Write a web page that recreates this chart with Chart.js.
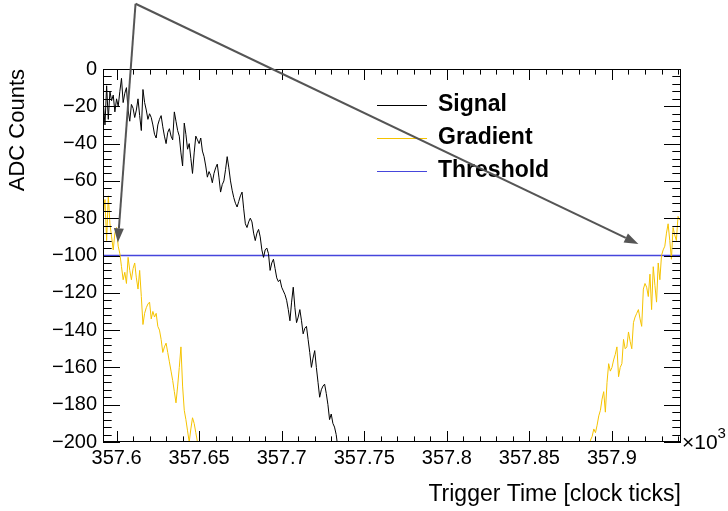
<!DOCTYPE html>
<html>
<head>
<meta charset="utf-8">
<script src="https://cdn.jsdelivr.net/npm/chart.js@4.4.1/dist/chart.umd.min.js"></script>
<style>
  html, body { margin: 0; padding: 0; background: #fff; }
</style>
</head>
<body>
<canvas id="graphCanvas" width="728" height="511"></canvas>
<script>
// Axis ranges (clock ticks; labels are shown in units of 10^3)
const xMin = 357591.8;
const xMax = 357941.8;
const yMin = -200;
const yMax = 0;
const xTickValues = [357600, 357650, 357700, 357750, 357800, 357850, 357900];

// Signal: one sample per clock tick, starting at signalStart
const signalStart = 357592;
const signalValues = [
  -18, -30, -9, -27, -12, -17, -14, -23, -16, -20,
  -12, -5, -18, -13, -10, -22, -28, -19, -21, -26,
  -22, -16, -25, -33, -11, -18, -22, -27, -24, -26,
  -30, -35, -37, -30, -27, -25, -31, -36, -40, -34,
  -32, -36, -38, -23, -28, -33, -36, -45, -52, -29,
  -35, -43, -40, -48, -56, -45, -36, -38, -40, -37,
  -44, -47, -52, -58, -55, -57, -61, -56, -53, -51,
  -58, -66, -62, -60, -54, -47, -53, -60, -65, -69,
  -72, -74, -71, -68, -66, -75, -83, -85, -82, -80,
  -82, -88, -92, -88, -86, -90, -97, -101, -97, -96,
  -99, -108, -104, -102, -107, -112, -114, -113, -117, -119,
  -121, -124, -129, -135, -125, -117, -128, -136, -133, -129,
  -135, -142, -139, -138, -145, -152, -160, -155, -151, -160,
  -168, -176, -172, -170, -169, -174, -180, -188, -185, -190,
  -192, -196, -203
];

// Gradient: falling part at the start, rising part at the end
const gradientLeftStart = 357592;
const gradientLeftValues = [
  -78, -70, -92, -68, -83, -90, -97, -88, -85, -95,
  -99, -106, -113, -109, -115, -101, -108, -113, -107, -104,
  -112, -118, -108, -122, -137, -131, -128, -126, -125, -134,
  -130, -133, -131, -138, -140, -145, -152, -149, -147, -152,
  -157, -162, -167, -173, -179, -170, -160, -149, -170, -183,
  -188, -194, -200, -193, -187, -190, -195, -200, -205
];
const gradientRightStart = 357886;
const gradientRightValues = [
  -205, -199, -197, -193, -195, -191, -186, -183, -177, -173,
  -184, -168, -158, -162, -160, -156, -153, -149, -165, -160,
  -158, -145, -150, -149, -141, -146, -150, -136, -133, -131,
  -129, -134, -138, -118, -115, -117, -122, -110, -129, -106,
  -116, -125, -104, -113, -100, -97, -95, -88, -83, -92,
  -102, -85, -89, -92, -79, -81
];

const thresholdLevel = -100;

// Annotation arrows (data coordinates): common tail, two heads
const arrowTail = { x: 357611.5, y: 35 };
const arrowHeads = [
  { x: 357600.8, y: -93 },
  { x: 357916, y: -93.8 }
];

// Tick divisions
const xMajorStep = 50, xMinorStep = 10;
const yMajorStep = 20, yMinorStep = 4;

function toPoints(start, values) {
  return values.map((v, i) => ({ x: start + i, y: v }));
}

const signalData = toPoints(signalStart, signalValues);
const gradientData = toPoints(gradientLeftStart, gradientLeftValues)
  .concat([{ x: gradientLeftStart + gradientLeftValues.length, y: null }])
  .concat(toPoints(gradientRightStart, gradientRightValues));
const thresholdData = [{ x: xMin, y: thresholdLevel }, { x: xMax, y: thresholdLevel }];

const FONT = "'Liberation Sans', Arial, Helvetica, sans-serif";
Chart.defaults.font.family = FONT;
Chart.defaults.color = '#000';

// ROOT-like frame: inward ticks on all four sides, x10^3 tag, legend, arrows
const rootFrame = {
  id: 'rootFrame',
  afterDraw(chart) {
    const c = chart.ctx;
    const a = chart.chartArea;
    const xs = chart.scales.x, ys = chart.scales.y;
    c.save();
    c.strokeStyle = '#000';
    c.lineWidth = 1;
    c.strokeRect(a.left + 0.5, a.top + 0.5, a.right - a.left - 1, a.bottom - a.top - 1);

    c.beginPath();
    for (let t = Math.ceil(xMin / xMinorStep) * xMinorStep; t <= xMax; t += xMinorStep) {
      const px = Math.round(xs.getPixelForValue(t)) + 0.5;
      const len = (t % xMajorStep === 0) ? 11 : 5.6;
      c.moveTo(px, a.bottom); c.lineTo(px, a.bottom - len);
      c.moveTo(px, a.top); c.lineTo(px, a.top + len);
    }
    for (let v = yMin; v <= yMax; v += yMinorStep) {
      const py = Math.round(ys.getPixelForValue(v)) + 0.5;
      const len = (v % yMajorStep === 0) ? 17 : 8.7;
      c.moveTo(a.left, py); c.lineTo(a.left + len, py);
      c.moveTo(a.right, py); c.lineTo(a.right - len, py);
    }
    c.stroke();

    // exponent tag of the x axis
    c.fillStyle = '#000';
    c.textBaseline = 'middle';
    c.textAlign = 'left';
    c.font = '21px ' + FONT;
    c.fillText('\u00d710', a.right + 1, a.bottom + 1);
    const w = c.measureText('\u00d710').width;
    c.font = '15px ' + FONT;
    c.fillText('3', a.right + 1 + w, a.bottom - 8);

    // legend
    const rows = [105, 138, 171];
    c.font = 'bold 23px ' + FONT;
    chart.data.datasets.forEach((ds, i) => {
      const y = rows[i] + 0.5;
      c.strokeStyle = ds.borderColor;
      c.lineWidth = 1;
      c.beginPath(); c.moveTo(377, y); c.lineTo(427, y); c.stroke();
      c.fillStyle = '#000';
      c.fillText(ds.label, 438, rows[i]);
    });

    // arrows
    c.strokeStyle = '#555';
    c.fillStyle = '#555';
    c.lineWidth = 2;
    const tx = xs.getPixelForValue(arrowTail.x), ty = ys.getPixelForValue(arrowTail.y);
    arrowHeads.forEach(h => {
      const hx = xs.getPixelForValue(h.x), hy = ys.getPixelForValue(h.y);
      const ang = Math.atan2(hy - ty, hx - tx);
      const L = 14, W = 5;
      const bx = hx - L * Math.cos(ang), by = hy - L * Math.sin(ang);
      c.beginPath(); c.moveTo(tx, ty); c.lineTo(bx, by); c.stroke();
      c.beginPath();
      c.moveTo(hx, hy);
      c.lineTo(bx + W * Math.sin(ang), by - W * Math.cos(ang));
      c.lineTo(bx - W * Math.sin(ang), by + W * Math.cos(ang));
      c.closePath(); c.fill();
    });
    c.restore();
  }
};

const ctx = document.getElementById('graphCanvas').getContext('2d');
const chart = new Chart(ctx, {
  type: 'line',
  data: {
    datasets: [
      {
        label: 'Signal',
        data: signalData,
        borderColor: '#000',
        borderWidth: 1,
        pointRadius: 0,
        tension: 0,
        spanGaps: false
      },
      {
        label: 'Gradient',
        data: gradientData,
        borderColor: 'rgb(245,195,0)',
        borderWidth: 1,
        pointRadius: 0,
        tension: 0,
        spanGaps: false
      },
      {
        label: 'Threshold',
        data: thresholdData,
        borderColor: '#4646dc',
        borderWidth: 1.3,
        pointRadius: 0
      }
    ]
  },
  options: {
    responsive: false,
    animation: false,
    layout: { padding: { top: 69, right: 47, left: 0, bottom: 0 } },
    plugins: {
      legend: { display: false },
      tooltip: { enabled: false }
    },
    scales: {
      x: {
        type: 'linear',
        min: xMin,
        max: xMax,
        grid: { display: false, drawTicks: false },
        border: { display: false },
        afterBuildTicks: s => { s.ticks = xTickValues.map(v => ({ value: v })); },
        ticks: {
          autoSkip: false,
          maxRotation: 0,
          padding: 4,
          font: { size: 20 },
          callback: v => String(Math.round(v) / 1000)
        },
        title: {
          display: true,
          text: 'Trigger Time [clock ticks]',
          align: 'end',
          font: { size: 23 },
          padding: { top: 0, bottom: 3 }
        },
        afterFit: s => { s.height = 69; }
      },
      y: {
        min: yMin,
        max: yMax,
        grid: { display: false, drawTicks: false },
        border: { display: false },
        ticks: {
          stepSize: yMajorStep,
          padding: 6,
          font: { size: 20 },
          callback: v => v < 0 ? '\u2212' + Math.abs(v) : String(v)
        },
        title: {
          display: true,
          text: 'ADC Counts',
          align: 'end',
          font: { size: 22 },
          padding: { top: 5, bottom: 0 }
        },
        afterFit: s => { s.width = 103; }
      }
    }
  },
  plugins: [rootFrame]
});
</script>
</body>
</html>
